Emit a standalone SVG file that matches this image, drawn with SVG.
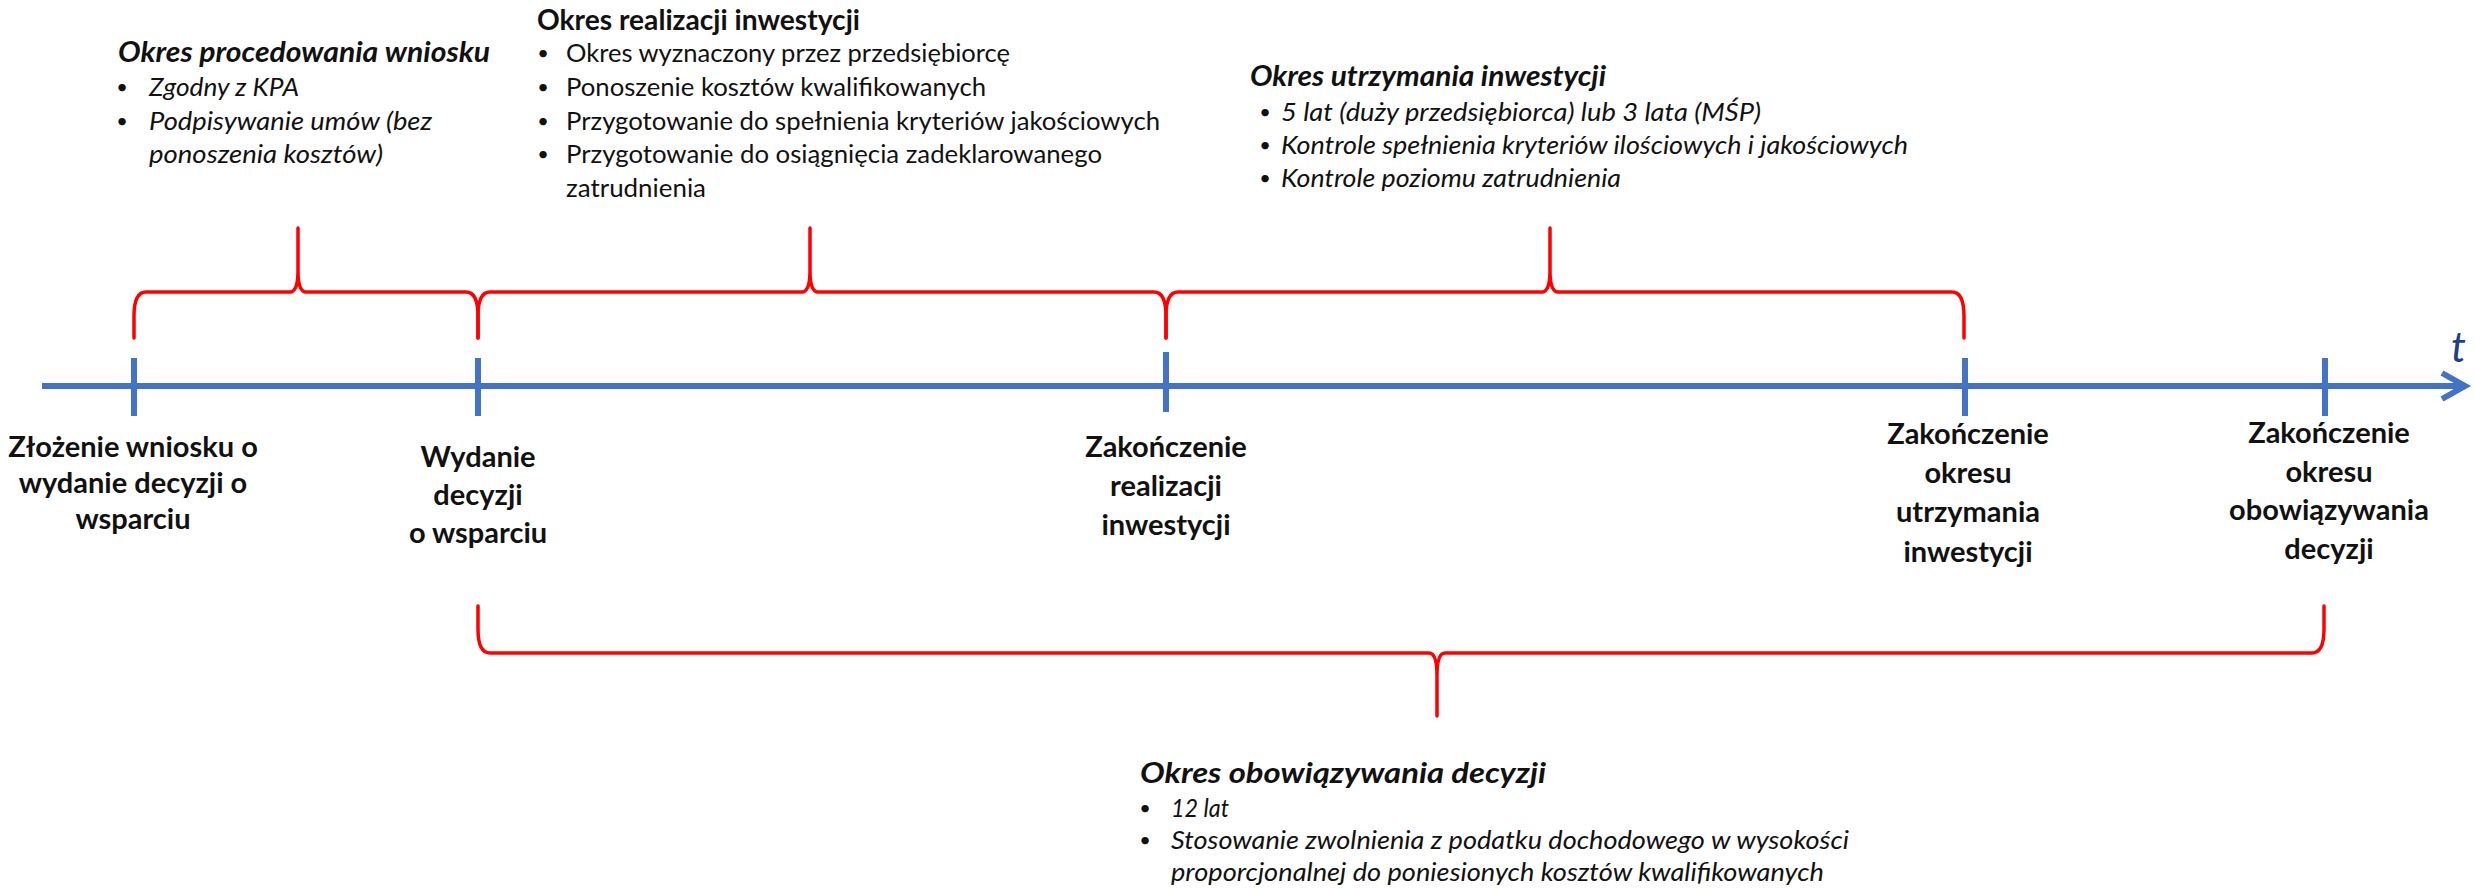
<svg xmlns="http://www.w3.org/2000/svg" width="2475" height="889" viewBox="0 0 2475 889">
<style>
text{font-family:Lato,"Liberation Sans",sans-serif;fill:#111}
.lbl{font-weight:700;font-size:29px;text-anchor:middle}
.hd{font-weight:700;font-size:28px}
.bl{font-weight:400;font-size:25px}
.it{font-style:italic}
.dot{font-size:20px;text-anchor:middle}
.tick{stroke:#4472C4;stroke-width:6;fill:none}
.axis{stroke:#4472C4;stroke-width:6;fill:none}
.brace{fill:none;stroke:#FF0000;stroke-width:3.5;stroke-linejoin:round;stroke-linecap:round}
.tt{font-style:italic;font-size:42px;fill:#203F84}
</style>
<rect width="2475" height="889" fill="#FFFFFF"/>

<g id="connectors">
  <path class="axis" d="M42,386 H2462"/>
  <path class="axis" d="M2442,373 L2465,386 L2442,399" stroke-linejoin="miter"/>
  <path class="brace" d="M134,338 V316 Q134,292 146,292 H290 Q298,292 298,270 V228 M298,270 Q298,292 306,292 H466 Q478,292 478,316 V338"/>
  <path class="brace" d="M478,338 V316 Q478,292 490,292 H802 Q810,292 810,270 V228 M810,270 Q810,292 818,292 H1154 Q1166,292 1166,316 V338"/>
  <path class="brace" d="M1166,338 V316 Q1166,292 1178,292 H1542 Q1550,292 1550,270 V228 M1550,270 Q1550,292 1558,292 H1952 Q1964,292 1964,316 V338"/>
  <path class="brace" d="M478,606 V629 Q478,653 490,653 H1429 Q1437,653 1437,676 V716 M1437,676 Q1437,653 1445,653 H2312 Q2324,653 2324,629 V606"/>
  <text class="tt" x="2451" y="362">t</text>
</g>

<g id="event-zlozenie">
  <path class="tick" d="M134,358 V416"/>
  <text class="lbl" x="133" y="457">Złożenie wniosku o</text>
  <text class="lbl" x="133" y="493">wydanie decyzji o</text>
  <text class="lbl" x="133" y="529">wsparciu</text>
</g>

<g id="event-wydanie">
  <path class="tick" d="M478,358 V416"/>
  <text class="lbl" x="478" y="467">Wydanie</text>
  <text class="lbl" x="478" y="505">decyzji</text>
  <text class="lbl" x="478" y="543">o wsparciu</text>
</g>

<g id="event-zakonczenie-realizacji">
  <path class="tick" d="M1166,352 V412"/>
  <text class="lbl" x="1166" y="457">Zakończenie</text>
  <text class="lbl" x="1166" y="496">realizacji</text>
  <text class="lbl" x="1166" y="535">inwestycji</text>
</g>

<g id="event-zakonczenie-utrzymania">
  <path class="tick" d="M1965,358 V416"/>
  <text class="lbl" x="1968" y="444">Zakończenie</text>
  <text class="lbl" x="1968" y="483">okresu</text>
  <text class="lbl" x="1968" y="522">utrzymania</text>
  <text class="lbl" x="1968" y="562">inwestycji</text>
</g>

<g id="event-zakonczenie-obowiazywania">
  <path class="tick" d="M2325,358 V416"/>
  <text class="lbl" x="2329" y="443">Zakończenie</text>
  <text class="lbl" x="2329" y="482">okresu</text>
  <text class="lbl" x="2329" y="520">obowiązywania</text>
  <text class="lbl" x="2329" y="559">decyzji</text>
</g>

<g id="period-procedowania">
  <text class="hd it" x="118" y="62" textLength="372" lengthAdjust="spacingAndGlyphs">Okres procedowania wniosku</text>
  <text class="dot" x="122" y="94">•</text>
  <text class="bl it" x="149" y="96" textLength="150" lengthAdjust="spacingAndGlyphs">Zgodny z KPA</text>
  <text class="dot" x="122" y="128">•</text>
  <text class="bl it" x="149" y="130" textLength="283" lengthAdjust="spacingAndGlyphs">Podpisywanie umów (bez</text>
  <text class="bl it" x="149" y="163" textLength="234" lengthAdjust="spacingAndGlyphs">ponoszenia kosztów)</text>
</g>

<g id="period-realizacji">
  <text class="hd" x="537" y="30" textLength="323" lengthAdjust="spacingAndGlyphs">Okres realizacji inwestycji</text>
  <text class="dot" x="543" y="60">•</text>
  <text class="bl" x="566" y="62" textLength="444" lengthAdjust="spacingAndGlyphs">Okres wyznaczony przez przedsiębiorcę</text>
  <text class="dot" x="543" y="94">•</text>
  <text class="bl" x="566" y="96" textLength="420" lengthAdjust="spacingAndGlyphs">Ponoszenie kosztów kwalifikowanych</text>
  <text class="dot" x="543" y="128">•</text>
  <text class="bl" x="566" y="130" textLength="594" lengthAdjust="spacingAndGlyphs">Przygotowanie do spełnienia kryteriów jakościowych</text>
  <text class="dot" x="543" y="161">•</text>
  <text class="bl" x="566" y="163" textLength="536" lengthAdjust="spacingAndGlyphs">Przygotowanie do osiągnięcia zadeklarowanego</text>
  <text class="bl" x="566" y="197" textLength="140" lengthAdjust="spacingAndGlyphs">zatrudnienia</text>
</g>

<g id="period-utrzymania">
  <text class="hd it" x="1250" y="86" textLength="356" lengthAdjust="spacingAndGlyphs">Okres utrzymania inwestycji</text>
  <text class="dot" x="1265" y="119">•</text>
  <text class="bl it" x="1281" y="121" textLength="480" lengthAdjust="spacingAndGlyphs">5 lat (duży przedsiębiorca) lub 3 lata (MŚP)</text>
  <text class="dot" x="1265" y="152">•</text>
  <text class="bl it" x="1281" y="154" textLength="627" lengthAdjust="spacingAndGlyphs">Kontrole spełnienia kryteriów ilościowych i jakościowych</text>
  <text class="dot" x="1265" y="185">•</text>
  <text class="bl it" x="1281" y="187" textLength="340" lengthAdjust="spacingAndGlyphs">Kontrole poziomu zatrudnienia</text>
</g>

<g id="period-obowiazywania">
  <text class="hd it" x="1140" y="783" textLength="406" lengthAdjust="spacingAndGlyphs">Okres obowiązywania decyzji</text>
  <text class="dot" x="1145" y="815">•</text>
  <text class="bl it" x="1171" y="817" textLength="58" lengthAdjust="spacingAndGlyphs">12 lat</text>
  <text class="dot" x="1145" y="847">•</text>
  <text class="bl it" x="1171" y="849" textLength="678" lengthAdjust="spacingAndGlyphs">Stosowanie zwolnienia z podatku dochodowego w wysokości</text>
  <text class="bl it" x="1171" y="881" textLength="653" lengthAdjust="spacingAndGlyphs">proporcjonalnej do poniesionych kosztów kwalifikowanych</text>
</g>
</svg>
